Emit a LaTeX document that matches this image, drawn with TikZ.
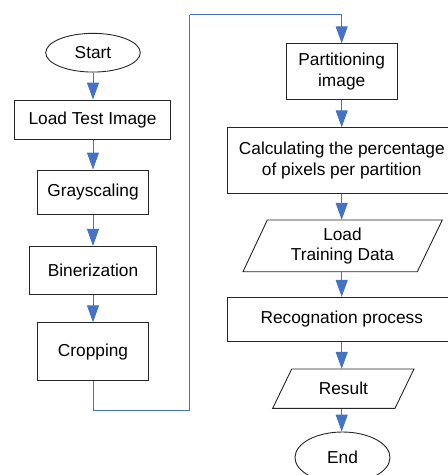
\documentclass[tikz,border=0pt]{standalone}
\usepackage{fontspec}
\setmainfont{Liberation Sans}
\usetikzlibrary{arrows.meta,shapes.geometric}
\definecolor{flowblue}{HTML}{4472C4}
\tikzset{
  proc/.style={draw=black!85, line width=0.9pt, rectangle, inner sep=0pt, align=center,
    font=\fontsize{17.3}{20.5}\selectfont},
  term/.style={draw=black!85, line width=0.9pt, ellipse, inner sep=0pt,
    font=\fontsize{17.3}{20.5}\selectfont},
  iotext/.style={inner sep=0pt, align=center, font=\fontsize{17.3}{20.5}\selectfont},
  io/.style={draw=black!85, line width=0.9pt, line join=miter},
  arr/.style={draw=flowblue, line width=1pt, -{Triangle[length=17pt,width=12pt]}},
  wire/.style={draw=flowblue, line width=1pt}
}
\begin{document}
\begin{tikzpicture}[x=1pt,y=-1pt]
\useasboundingbox (0,0) rectangle (448,475);
% left column
\node[term, minimum width=94.6pt, minimum height=38.7pt] (start) at (93,52.7) {Start};
\node[proc, minimum width=155.7pt, minimum height=39.3pt] (load) at (92.5,119.7) {Load Test Image};
\node[proc, minimum width=110.6pt, minimum height=44.7pt] (gray) at (93,192.3) {Grayscaling};
\node[proc, minimum width=126.3pt, minimum height=47.7pt] (bin) at (93,270.2) {Binerization};
\node[proc, minimum width=110.3pt, minimum height=58pt] (crop) at (93,351.7) {Cropping};
% right column
\node[proc, minimum width=110.7pt, minimum height=55.6pt] (part) at (341.7,71.5) {Partitioning\\image};
\node[proc, minimum width=229pt, minimum height=66pt] (calc) at (341.8,160.7) {Calculating the percentage\\of pixels per partition};
\node[iotext, minimum width=150pt, minimum height=51.7pt] (ltd) at (342.5,245.9) {Load\\Training Data};
\node[proc, minimum width=229pt, minimum height=43.7pt] (rec) at (341.8,319.2) {Recognation process};
\node[iotext, minimum width=103pt, minimum height=39.3pt] (res) at (343.4,388.7) {Result};
\node[term, minimum width=95pt, minimum height=51pt] (end) at (342.5,457.5) {End};
% parallelograms
\draw[io] (243,271.7) -- (267.3,220) -- (442.3,220) -- (417.3,271.7) -- cycle;
\draw[io] (272.7,408.3) -- (291.7,369) -- (414,369) -- (395,408.3) -- cycle;
% connectors
\coordinate (t1) at (189.5,410);
\coordinate (t2) at (189.5,14.7);
\draw[arr] (start.south) -- (load.north -| start.south);
\draw[arr] (load.south -| start.south) -- (gray.north);
\draw[arr] (gray) -- (bin);
\draw[arr] (bin) -- (crop);
\draw[wire] (crop.south) |- (t1) -- (t2);
\draw[arr] (t2) -| (part.north);
\draw[arr] (part.south) -- (calc.north -| part.south);
\draw[arr] (calc.south -| part.south) -- (ltd.north -| part.south);
\draw[arr] (ltd.south -| part.south) -- (rec.north -| part.south);
\draw[arr] (rec.south -| part.south) -- (res.north -| part.south);
\draw[arr] (res.south -| part.south) -- (end.north -| part.south);
\end{tikzpicture}
\end{document}
